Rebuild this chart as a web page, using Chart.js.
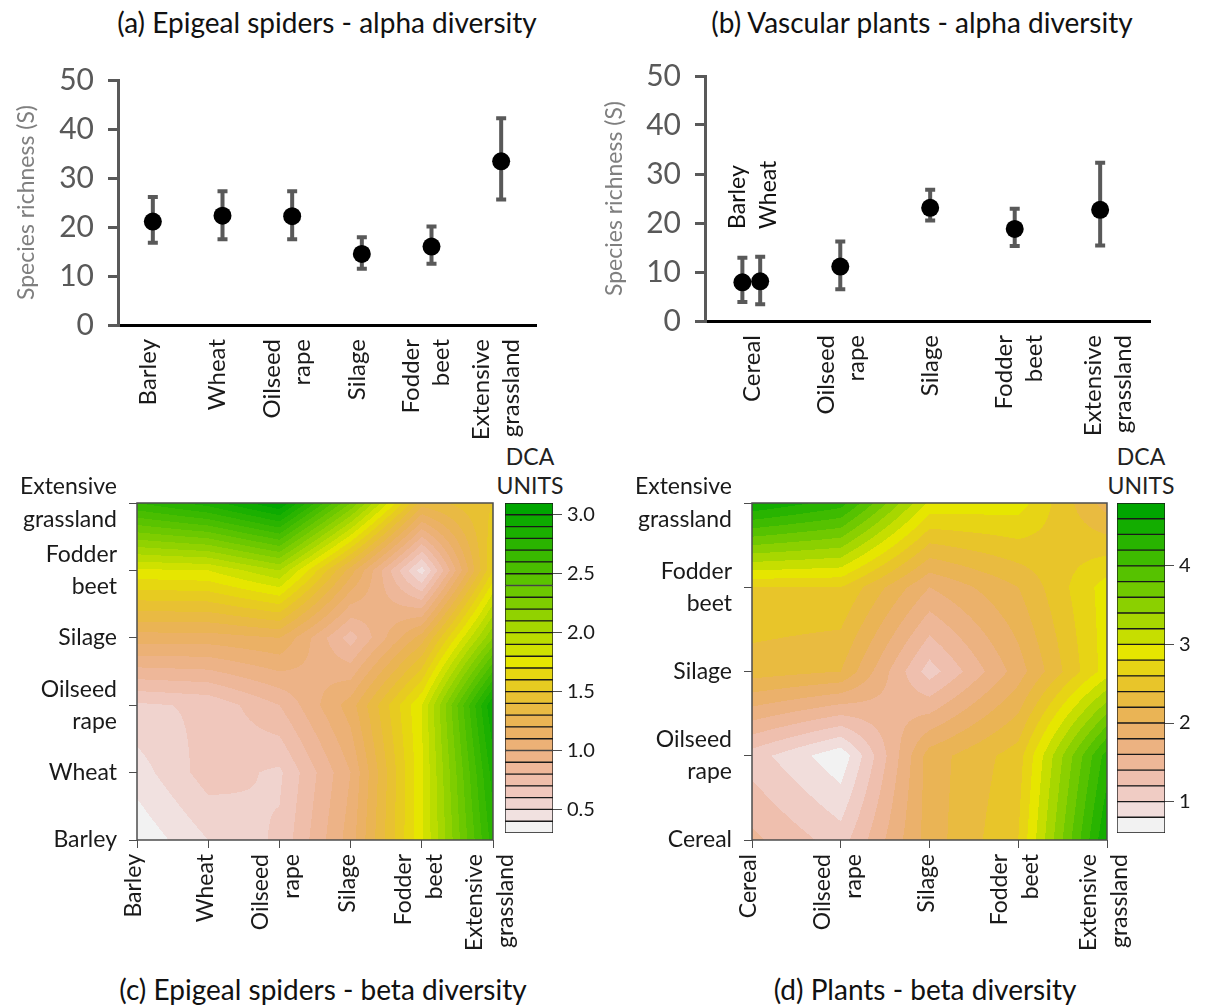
<!DOCTYPE html>
<html>
<head>
<meta charset="utf-8">
<script src="https://cdn.jsdelivr.net/npm/chart.js@4.4.1/dist/chart.umd.min.js"></script>
<style>
  body { margin: 0; background: #fff; width: 1208px; height: 1006px; position: relative; overflow: hidden; font-family: Lato, "Open Sans", sans-serif; }
  canvas { position: absolute; }
  .ttl { position: absolute; font-size: 28px; color: #111; white-space: nowrap; transform: translate(-50%, -50%); }
  .unit { position: absolute; font-size: 23px; color: #222; text-align: center; line-height: 29px; transform: translateX(-50%); }
</style>
</head>
<body>
<div class="ttl" style="left:327px;top:22px">(a) Epigeal spiders - alpha diversity</div>
<div class="ttl" style="left:922px;top:22px">(b) Vascular plants - alpha diversity</div>
<div class="ttl" style="left:323px;top:989px">(c) Epigeal spiders - beta diversity</div>
<div class="ttl" style="left:925px;top:989px">(d) Plants - beta diversity</div>
<div class="unit" style="left:530px;top:442px">DCA<br>UNITS</div>
<div class="unit" style="left:1141px;top:442px">DCA<br>UNITS</div>

<canvas id="chartA" width="600" height="450" style="left:0;top:0"></canvas>
<canvas id="chartB" width="608" height="450" style="left:600px;top:0"></canvas>
<canvas id="chartC" width="540" height="540" style="left:0;top:440px"></canvas>
<canvas id="barC" width="110" height="410" style="left:500px;top:440px"></canvas>
<canvas id="chartD" width="560" height="540" style="left:600px;top:440px"></canvas>
<canvas id="barD" width="96" height="410" style="left:1112px;top:440px"></canvas>

<script>
// ---- data ----
const spiderCats = [['Barley'], ['Wheat'], ['Oilseed', 'rape'], ['Silage'], ['Fodder', 'beet'], ['Extensive', 'grassland']];
const spiderMean = [21.1, 22.3, 22.2, 14.5, 16.0, 33.4];
const spiderLow  = [16.8, 17.5, 17.5, 11.5, 12.5, 25.6];
const spiderHigh = [26.1, 27.3, 27.3, 17.9, 20.1, 42.2];

const plantCats = [['Cereal'], ['Oilseed', 'rape'], ['Silage'], ['Fodder', 'beet'], ['Extensive', 'grassland']];
const plantNames = ['Barley', 'Wheat', 'Oilseed rape', 'Silage', 'Fodder beet', 'Extensive grassland'];
const plantPos  = [0.42, 0.62, 1.52, 2.53, 3.48, 4.44];
const plantMean = [7.9, 8.1, 11.1, 23.1, 18.8, 22.7];
const plantLow  = [3.9, 3.4, 6.5, 20.5, 15.3, 15.4];
const plantHigh = [12.9, 13.1, 16.2, 26.8, 22.9, 32.3];

const richnessTicks = [0, 10, 20, 30, 40, 50];

// beta diversity grids, rows bottom -> top, columns left -> right (same order as categories)
const spiderBeta = [
  [0.32, 0.50, 0.62, 1.05, 1.78, 2.75],
  [0.45, 0.65, 0.58, 1.00, 1.78, 2.85],
  [0.58, 0.62, 0.80, 1.15, 1.80, 3.00],
  [1.15, 1.15, 1.20, 0.75, 1.25, 2.20],
  [1.78, 1.80, 2.00, 1.25, 0.45, 1.60],
  [2.70, 2.85, 3.10, 2.30, 1.35, 1.50]
];
const plantBeta = [
  [1.45, 1.10, 2.10, 2.60, 4.60],
  [1.10, 0.65, 2.10, 2.50, 4.30],
  [2.30, 2.20, 1.10, 1.90, 2.90],
  [2.60, 2.60, 1.80, 2.20, 2.90],
  [4.60, 4.30, 2.95, 2.90, 2.10]
];

// contour levels and colour bar ticks
const spiderLevels = [0.3, 0.4, 0.5, 0.6, 0.7, 0.8, 0.9, 1.0, 1.1, 1.2, 1.3, 1.4, 1.5, 1.6, 1.7, 1.8, 1.9, 2.0,
                      2.1, 2.2, 2.3, 2.4, 2.5, 2.6, 2.7, 2.8, 2.9, 3.0, 3.1];
const spiderBarTicks = [0.5, 1.0, 1.5, 2.0, 2.5, 3.0];
const spiderBarLabels = ['0.5', '1.0', '1.5', '2.0', '2.5', '3.0'];
const plantLevels = [0.6, 0.8, 1.0, 1.2, 1.4, 1.6, 1.8, 2.0, 2.2, 2.4, 2.6, 2.8, 3.0, 3.2, 3.4, 3.6, 3.8, 4.0,
                     4.2, 4.4, 4.6, 4.8];
const plantBarTicks = [1, 2, 3, 4];
const plantBarLabels = ['1', '2', '3', '4'];

const FONT = 'Lato, "Open Sans", sans-serif';
Chart.defaults.font.family = FONT;
Chart.defaults.animation = false;
Chart.defaults.plugins.legend.display = false;
Chart.defaults.plugins.tooltip.enabled = false;

// R style terrain.colors(n), reversed so low values are pale
function hsv(h, s, v) {
  const i = Math.floor(h * 6) % 6, f = h * 6 - Math.floor(h * 6);
  const p = v * (1 - s), q = v * (1 - f * s), t = v * (1 - (1 - f) * s);
  const rgb = [[v, t, p], [q, v, p], [p, v, t], [p, q, v], [t, p, v], [v, p, q]][i];
  return rgb.map(c => Math.round(c * 255));
}
function terrainColors(n) {
  const k = Math.floor(n / 2), out = [];
  for (let i = 0; i < k; i++) {
    const t = k > 1 ? i / (k - 1) : 0;
    out.push(hsv(4 / 12 - (2 / 12) * t, 1, 0.65 + 0.25 * t));
  }
  const m = n - k;
  for (let i = 1; i <= m; i++) {
    const t = i / m;
    out.push(hsv((2 / 12) * (1 - t), 1 - t, 0.9 + 0.05 * t));
  }
  return out.reverse();
}

function bilinear(g, vx, vy) {
  const nx = g[0].length - 1, ny = g.length - 1;
  vx = Math.max(0, Math.min(nx, vx));
  vy = Math.max(0, Math.min(ny, vy));
  const i = Math.min(nx - 1, Math.floor(vx)), j = Math.min(ny - 1, Math.floor(vy));
  const fx = vx - i, fy = vy - j;
  return g[j][i] * (1 - fx) * (1 - fy) + g[j][i + 1] * fx * (1 - fy) +
         g[j + 1][i] * (1 - fx) * fy + g[j + 1][i + 1] * fx * fy;
}

// filled contour drawn through the chart's own x / y scales
function contourPlugin(grid, levels) {
  const cols = terrainColors(levels.length - 1);
  return {
    id: 'contour',
    beforeDatasetsDraw(chart) {
      const { ctx, chartArea: a, scales: { x, y } } = chart;
      const w = Math.round(a.right - a.left), h = Math.round(a.bottom - a.top);
      const off = document.createElement('canvas');
      off.width = w; off.height = h;
      const octx = off.getContext('2d');
      const img = octx.createImageData(w, h);
      for (let py = 0; py < h; py++) {
        const vy = y.getValueForPixel(a.top + py + 0.5);
        for (let px = 0; px < w; px++) {
          const z = bilinear(grid, x.getValueForPixel(a.left + px + 0.5), vy);
          let b = 0;
          while (b < cols.length - 1 && z >= levels[b + 1]) b++;
          const c = cols[b], k = (py * w + px) * 4;
          img.data[k] = c[0]; img.data[k + 1] = c[1]; img.data[k + 2] = c[2]; img.data[k + 3] = 255;
        }
      }
      octx.putImageData(img, 0, 0);
      ctx.drawImage(off, a.left, a.top);
    },
    afterDraw(chart) {
      const { ctx, chartArea: a } = chart;
      ctx.save();
      ctx.strokeStyle = '#4d4d4d';
      ctx.lineWidth = 1.5;
      ctx.strokeRect(a.left, a.top, a.right - a.left, a.bottom - a.top);
      ctx.restore();
    }
  };
}

// rotated (bottom-to-top) category labels under the x axis
function xLabelPlugin(cats, at, shift, gap, pad, size) {
  return {
    id: 'xlabels',
    afterDraw(chart) {
      const { ctx, chartArea: a, scales: { x } } = chart;
      ctx.save();
      ctx.font = size + 'px ' + FONT;
      ctx.fillStyle = '#1a1a1a';
      ctx.textAlign = 'right';
      ctx.textBaseline = 'middle';
      cats.forEach((lines, i) => {
        const cx = x.getPixelForValue(at(i));
        lines.forEach((t, k) => {
          const lx = cx + shift + (k - (lines.length - 1) / 2) * gap;
          ctx.save();
          ctx.translate(lx, a.bottom + pad);
          ctx.rotate(-Math.PI / 2);
          ctx.fillText(t, 0, 0);
          ctx.restore();
        });
      });
      ctx.restore();
    }
  };
}

function errorBarPlugin(pos, low, high) {
  return {
    id: 'errbars',
    beforeDatasetsDraw(chart) {
      const { ctx, scales: { x, y } } = chart;
      ctx.save();
      ctx.strokeStyle = '#595959';
      ctx.lineWidth = 4;
      pos.forEach((p, i) => {
        const px = x.getPixelForValue(p), y0 = y.getPixelForValue(low[i]), y1 = y.getPixelForValue(high[i]);
        ctx.beginPath();
        ctx.moveTo(px, y0); ctx.lineTo(px, y1);
        ctx.moveTo(px - 5, y0); ctx.lineTo(px + 5, y0);
        ctx.moveTo(px - 5, y1); ctx.lineTo(px + 5, y1);
        ctx.stroke();
      });
      ctx.restore();
    }
  };
}

// Barley / Wheat names written above the two cereal points in (b)
const cerealNamePlugin = {
  id: 'cerealNames',
  afterDraw(chart) {
    const { ctx, scales: { x, y } } = chart;
    ctx.save();
    ctx.font = '23px ' + FONT;
    ctx.fillStyle = '#111';
    ctx.textAlign = 'left';
    ctx.textBaseline = 'middle';
    [[0, -5], [1, 8]].forEach(([i, dx]) => {
      ctx.save();
      ctx.translate(x.getPixelForValue(plantPos[i]) + dx, y.getPixelForValue(18.8));
      ctx.rotate(-Math.PI / 2);
      ctx.fillText(plantNames[i], 0, 0);
      ctx.restore();
    });
    ctx.restore();
  }
};

function alphaChart(id, pos, mean, low, high, xMax, yWidth, xHeight, padRight, padTop, titlePad, cats, labelShift, extra) {
  new Chart(document.getElementById(id), {
    type: 'scatter',
    data: {
      datasets: [{
        data: pos.map((p, i) => ({ x: p, y: mean[i] })),
        pointRadius: 9,
        pointBackgroundColor: '#000',
        pointBorderWidth: 0
      }]
    },
    options: {
      responsive: false,
      devicePixelRatio: 1,
      events: [],
      layout: { padding: { left: 0, right: padRight, top: padTop, bottom: 0 } },
      scales: {
        x: {
          type: 'linear', min: 0, max: xMax,
          ticks: { display: false },
          grid: { display: false },
          border: { color: '#000', width: 3 },
          afterFit: s => { s.height = xHeight; }
        },
        y: {
          min: 0, max: 50,
          afterBuildTicks: s => { s.ticks = richnessTicks.map(v => ({ value: v })); },
          ticks: { color: '#595959', font: { size: 30 }, padding: 14 },
          grid: { drawOnChartArea: false, tickLength: 10, color: '#595959', lineWidth: 3 },
          border: { color: '#595959', width: 3 },
          title: { display: true, text: 'Species richness (S)', color: '#7f7f7f', font: { size: 23 }, padding: { top: titlePad, bottom: 0 } },
          afterFit: s => { s.width = yWidth; }
        }
      }
    },
    plugins: [errorBarPlugin(pos, low, high), xLabelPlugin(cats, i => i + 0.5, labelShift, 30, 14, 24)].concat(extra)
  });
}

alphaChart('chartA', spiderCats.map((c, i) => i + 0.5), spiderMean, spiderLow, spiderHigh,
  6, 118, 125, 64, 80, 13, spiderCats, -5, []);
alphaChart('chartB', plantPos, plantMean, plantLow, plantHigh,
  5, 105, 129, 58, 76, 1, plantCats, 3, [cerealNamePlugin]);

function betaChart(id, cats, grid, levels, yWidth, padRight) {
  const n = cats.length - 1;
  new Chart(document.getElementById(id), {
    type: 'scatter',
    data: { datasets: [{ data: [], pointRadius: 0 }] },
    options: {
      responsive: false,
      devicePixelRatio: 1,
      events: [],
      layout: { padding: { left: 0, right: padRight, top: 63, bottom: 0 } },
      scales: {
        x: {
          type: 'linear', min: 0, max: n,
          afterBuildTicks: s => { s.ticks = cats.map((c, i) => ({ value: i })); },
          ticks: { display: false },
          grid: { drawOnChartArea: false, tickLength: 8, color: '#4d4d4d' },
          border: { display: false },
          afterFit: s => { s.height = 140; }
        },
        y: {
          type: 'linear', min: 0, max: n,
          afterBuildTicks: s => { s.ticks = cats.map((c, i) => ({ value: i })); },
          ticks: { color: '#1a1a1a', font: { size: 23, lineHeight: 1.4 }, padding: 12,
                   callback: (v, i) => cats[i] },
          grid: { drawOnChartArea: false, tickLength: 8, color: '#4d4d4d' },
          border: { display: false },
          afterFit: s => { s.width = yWidth; }
        }
      }
    },
    plugins: [contourPlugin(grid, levels), xLabelPlugin(cats, i => i, -3, 31, 14, 23)]
  });
}

betaChart('chartC', spiderCats, spiderBeta, spiderLevels, 137, 47);
betaChart('chartD', plantCats, plantBeta, plantLevels, 152, 53);

function colorBar(id, levels, tickVals, tickLabels, axisWidth) {
  const cols = terrainColors(levels.length - 1);
  new Chart(document.getElementById(id), {
    type: 'bar',
    data: {
      labels: [''],
      datasets: cols.map((c, i) => ({
        data: [[levels[i], levels[i + 1]]],
        backgroundColor: 'rgb(' + c.join(',') + ')',
        borderColor: '#1a1a1a',
        borderWidth: 1,
        borderSkipped: false,
        grouped: false,
        barPercentage: 1,
        categoryPercentage: 1
      }))
    },
    options: {
      responsive: false,
      devicePixelRatio: 1,
      events: [],
      layout: { padding: { left: 5, right: 0, top: 63, bottom: 10 } },
      scales: {
        x: { display: false },
        y: {
          position: 'right',
          min: levels[0], max: levels[levels.length - 1],
          afterBuildTicks: s => { s.ticks = tickVals.map(v => ({ value: v })); },
          ticks: { color: '#1a1a1a', font: { size: 20 }, padding: 5, callback: (v, i) => tickLabels[i] },
          grid: { drawOnChartArea: false, tickLength: 9, color: '#4d4d4d' },
          border: { display: false },
          afterFit: s => { s.width = axisWidth; }
        }
      }
    }
  });
}

colorBar('barC', spiderLevels, spiderBarTicks, spiderBarLabels, 57);
colorBar('barD', plantLevels, plantBarTicks, plantBarLabels, 43);
</script>
</body>
</html>
